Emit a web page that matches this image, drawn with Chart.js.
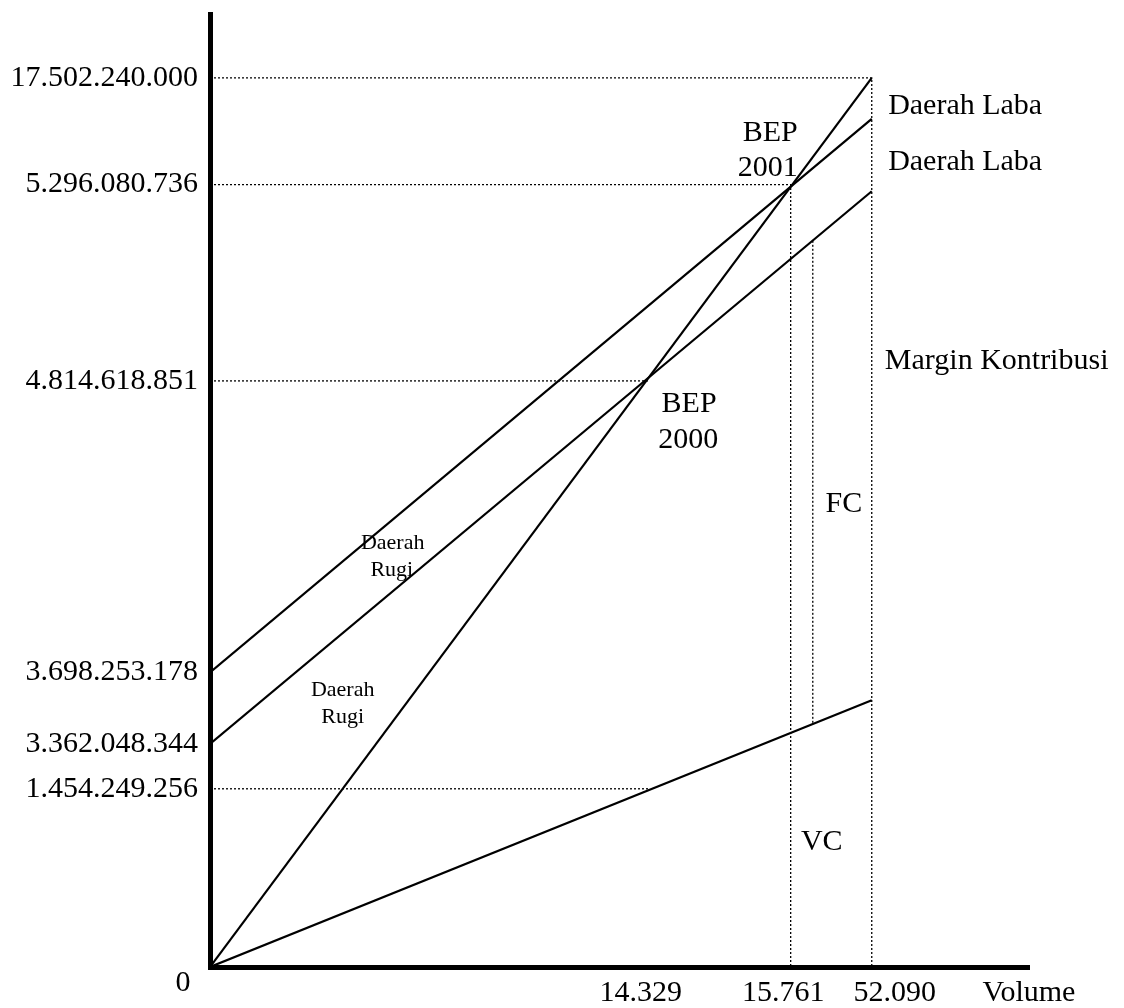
<!DOCTYPE html>
<html>
<head>
<meta charset="utf-8">
<script src="https://cdn.jsdelivr.net/npm/chart.js@4.4.1/dist/chart.umd.min.js"></script>
<style>
    html, body { margin: 0; padding: 0; background: #fff; }
    #wrap { width: 1124px; height: 1008px; position: relative; }
</style>
</head>
<body>
<div id="wrap"><canvas id="grafikBEP"></canvas></div>
<script>
// posisi dalam satuan gambar (0-100), dibaca dari grafik asli (skala tidak proporsional)
const labelVolume = ['14.329', '15.761', '52.090', 'Volume'];
const posisiVolume = [52.6, 70.0, 83.6, 100];
const labelRupiah = ['0', '1.454.249.256', '3.362.048.344', '3.698.253.178', '4.814.618.851', '5.296.080.736', '17.502.240.000'];
const posisiRupiah = [0, 18.7, 23.4, 30.9, 61.5, 82.1, 93.3];

const volumeGaris = [0, 80.8];
const penjualan = [0, 93.3];
const biayaTotal2001 = [30.9, 89.0];
const biayaTotal2000 = [23.4, 81.4];
const biayaVariabel = [0, 28.0];

// volume titik impas (2000, 2001)
const volumeBEP = [53.6, 70.9];

const volumeFC = [73.6, 73.6];
const nilaiFC = [76.2, 25.5];

const FONT = '"Liberation Serif", "Times New Roman", serif';

const catatan = [
    { teks: 'Daerah Laba', x: 82.8, y: 90.3, align: 'left', size: 30 },
    { teks: 'Daerah Laba', x: 82.8, y: 84.5, align: 'left', size: 30 },
    { teks: 'Margin Kontribusi', x: 82.4, y: 63.6, align: 'left', size: 30 },
    { teks: 'BEP', x: 68.4, y: 87.5, size: 30 },
    { teks: '2001', x: 68.1, y: 83.8, size: 30 },
    { teks: 'BEP', x: 58.5, y: 59.1, size: 30 },
    { teks: '2000', x: 58.4, y: 55.3, size: 30 },
    { teks: 'FC', x: 77.4, y: 48.6, size: 30 },
    { teks: 'VC', x: 74.7, y: 13.1, size: 30 },
    { teks: 'Daerah', x: 22.3, y: 44.5, size: 22 },
    { teks: 'Rugi', x: 22.2, y: 41.6, size: 22 },
    { teks: 'Daerah', x: 16.2, y: 29.0, size: 22 },
    { teks: 'Rugi', x: 16.2, y: 26.2, size: 22 },
    { teks: labelRupiah[0], x: -3.3, y: -1.7, size: 30 }
];

function titik(xs, ys) {
    return xs.map((x, i) => ({ x: x, y: ys[i] }));
}

function garisPenuh(label, ys) {
    return {
        label: label,
        data: titik(volumeGaris, ys),
        borderColor: '#000',
        borderWidth: 2.2,
        showLine: true,
        pointRadius: 0
    };
}

function garisTitik(label, data) {
    return {
        label: label,
        data: data,
        borderColor: '#000',
        borderWidth: 1.3,
        borderDash: [2, 2],
        showLine: true,
        pointRadius: 0
    };
}

const xBep2000 = volumeBEP[0];
const xBep2001 = volumeBEP[1];
const xAkhir = volumeGaris[1];

const datasets = [
    garisPenuh('Penjualan', penjualan),
    garisPenuh('Biaya Total 2001', biayaTotal2001),
    garisPenuh('Biaya Total 2000', biayaTotal2000),
    garisPenuh('Biaya Variabel', biayaVariabel),
    garisTitik('17.502.240.000', [{ x: 0, y: posisiRupiah[6] }, { x: xAkhir, y: posisiRupiah[6] }, { x: xAkhir, y: 0 }]),
    garisTitik('BEP 2001', [{ x: 0, y: posisiRupiah[5] }, { x: xBep2001, y: posisiRupiah[5] }, { x: xBep2001, y: 0 }]),
    garisTitik('BEP 2000', [{ x: 0, y: posisiRupiah[4] }, { x: xBep2000, y: posisiRupiah[4] }]),
    garisTitik('VC BEP 2000', [{ x: 0, y: posisiRupiah[1] }, { x: xBep2000, y: posisiRupiah[1] }]),
    garisTitik('FC', titik(volumeFC, nilaiFC))
];

const pluginCatatan = {
    id: 'catatan',
    afterDraw(chart) {
        const { ctx, scales: { x, y } } = chart;
        ctx.save();
        ctx.fillStyle = '#000';
        ctx.textBaseline = 'middle';
        catatan.forEach(c => {
            ctx.font = `${c.size}px ${FONT}`;
            ctx.textAlign = c.align || 'center';
            ctx.fillText(c.teks, x.getPixelForValue(c.x), y.getPixelForValue(c.y));
        });
        ctx.restore();
    }
};

new Chart(document.getElementById('grafikBEP'), {
    type: 'scatter',
    data: { datasets: datasets },
    options: {
        responsive: true,
        maintainAspectRatio: false,
        animation: false,
        layout: { padding: { top: 14, right: 95, left: 0, bottom: 0 } },
        plugins: {
            legend: { display: false },
            tooltip: { enabled: false }
        },
        scales: {
            x: {
                type: 'linear',
                min: 0,
                max: 100,
                afterBuildTicks: s => { s.ticks = posisiVolume.map(v => ({ value: v })); },
                afterFit: s => { s.height = 41; s.paddingLeft = 0; s.paddingRight = 0; },
                ticks: {
                    callback: (v, i) => labelVolume[i],
                    font: { family: FONT, size: 30 },
                    color: '#000',
                    padding: 8,
                    maxRotation: 0,
                    autoSkip: false
                },
                grid: { display: false, drawTicks: false },
                border: { display: true, color: '#000', width: 5 }
            },
            y: {
                type: 'linear',
                min: 0,
                max: 100,
                afterBuildTicks: s => { s.ticks = posisiRupiah.map(v => ({ value: v })); },
                afterFit: s => { s.width = 210; s.paddingTop = 0; s.paddingBottom = 0; },
                ticks: {
                    callback: (v, i) => (i === 0 ? '' : labelRupiah[i]),
                    font: { family: FONT, size: 30 },
                    color: '#000',
                    padding: 12,
                    autoSkip: false
                },
                grid: { display: false, drawTicks: false },
                border: { display: true, color: '#000', width: 5 }
            }
        }
    },
    plugins: [pluginCatatan]
});
</script>
</body>
</html>
